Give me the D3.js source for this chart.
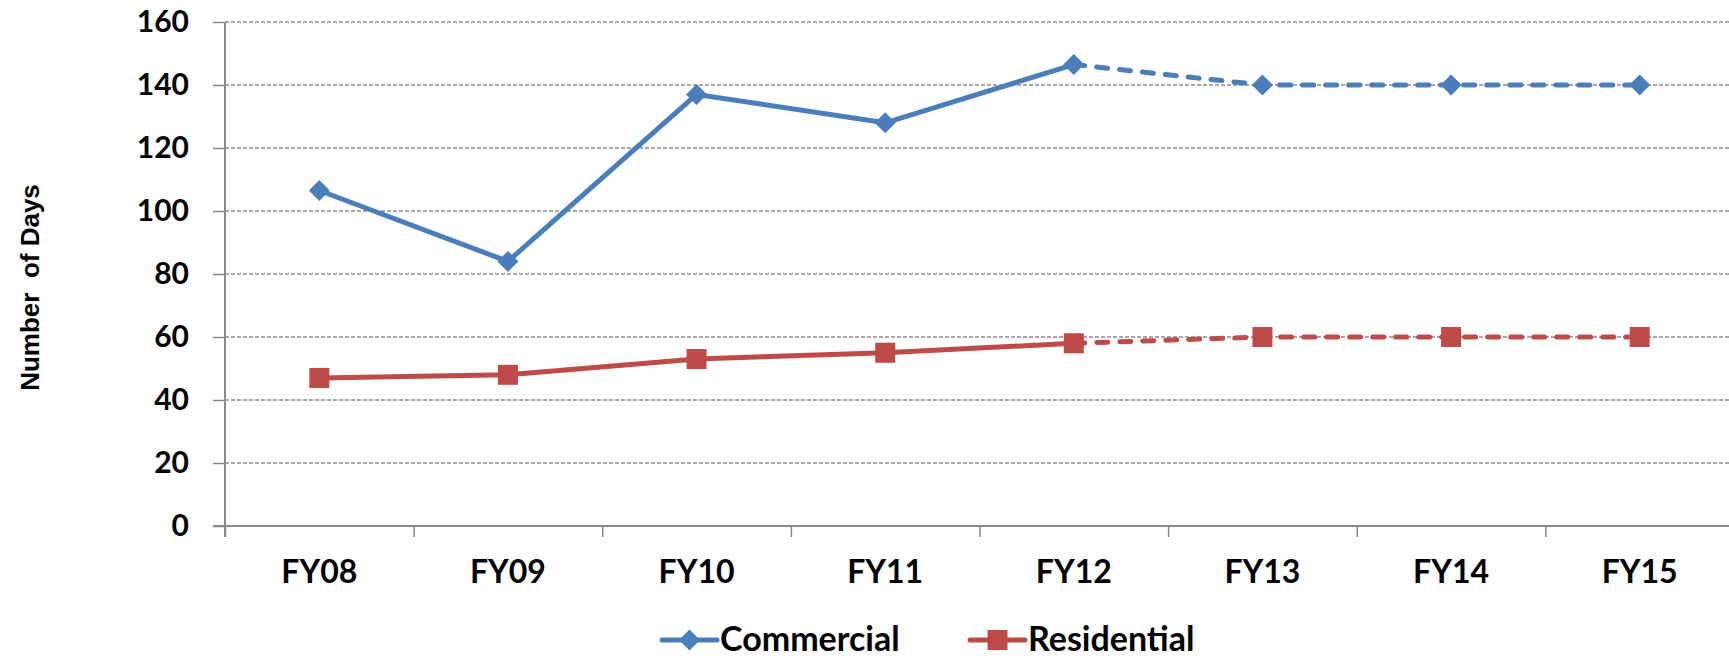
<!DOCTYPE html>
<html>
<head>
<meta charset="utf-8">
<script src="https://cdn.jsdelivr.net/npm/d3@7"></script>
<style>
  html, body { margin: 0; padding: 0; background: #fff; }
  svg { display: block; font-family: Lato, "Open Sans", sans-serif; font-weight: 700; }
</style>
</head>
<body>
<svg id="chart" width="1729" height="659"></svg>
<script>
// Fiscal years on the category axis
const years = ["FY08", "FY09", "FY10", "FY11", "FY12", "FY13", "FY14", "FY15"];
// Average number of days, by permit type
const commercial = [106.5, 84, 137, 128, 146.5, 140, 140, 140];
const residential = [47, 48, 53, 55, 58, 60, 60, 60];
// Years from this one onward are projections (drawn dashed)
const projectionFrom = "FY12";
const yTicks = [0, 20, 40, 60, 80, 100, 120, 140, 160];

const svg = d3.select("#chart");
const plotLeft = 225, plotRight = 1734, plotTop = 22, plotBottom = 526;

const x = d3.scaleBand().domain(years).range([plotLeft, plotRight]).padding(0);
const xc = d => x(d) + x.bandwidth() / 2;
const y = d3.scaleLinear().domain([0, 160]).range([plotBottom, plotTop]);

const gridColor = "#8a8a8a";

// Horizontal gridlines (dashed) across the plot
svg.append("g")
  .selectAll("line")
  .data(yTicks.filter(v => v > 0))
  .join("line")
  .attr("x1", plotLeft).attr("x2", plotRight)
  .attr("y1", d => y(d)).attr("y2", d => y(d))
  .attr("stroke", gridColor)
  .attr("stroke-width", 1.5)
  .attr("stroke-dasharray", "4,2");

// Value axis
const yAxis = svg.append("g")
  .attr("transform", `translate(${plotLeft},0)`)
  .call(d3.axisLeft(y).tickValues(yTicks).tickSize(12).tickPadding(24).tickFormat(d3.format("d")));
yAxis.select(".domain").attr("stroke", gridColor).attr("stroke-width", 2)
  .attr("d", `M0,${plotTop}V${plotBottom + 11}`);
yAxis.selectAll(".tick line").attr("stroke", gridColor).attr("stroke-width", 1.5);
yAxis.selectAll(".tick text")
  .attr("fill", "#000").attr("font-size", 30).attr("font-weight", 700)
  .attr("font-family", "Lato, 'Open Sans', sans-serif");

// Category axis: ticks sit on the band boundaries
const xEdges = d3.scaleLinear().domain([0, years.length]).range([plotLeft, plotRight]);
const xAxis = svg.append("g")
  .attr("transform", `translate(0,${plotBottom})`)
  .call(d3.axisBottom(xEdges).tickValues(d3.range(0, years.length + 1)).tickSize(11).tickFormat(""));
xAxis.select(".domain").attr("stroke", gridColor).attr("stroke-width", 2)
  .attr("d", `M${plotLeft - 12},0H${plotRight}`);
xAxis.selectAll(".tick line").attr("stroke", gridColor).attr("stroke-width", 1.5);

svg.append("g")
  .selectAll("text")
  .data(years)
  .join("text")
  .attr("x", d => xc(d))
  .attr("y", 583)
  .attr("text-anchor", "middle")
  .attr("font-size", 32)
  .text(d => d);

// Axis title
svg.append("text")
  .attr("transform", `translate(39,287.5) rotate(-90)`)
  .attr("text-anchor", "middle")
  .attr("font-family", "'Liberation Sans', Arial, sans-serif")
  .attr("font-size", 26)
  .style("white-space", "pre")
  .text("Number  of Days");

// Series
const series = [
  { name: "Commercial", values: commercial, color: "#4a7ebb", marker: "diamond" },
  { name: "Residential", values: residential, color: "#be4b48", marker: "square" }
];

const line = d3.line().x(d => xc(d.year)).y(d => y(d.value));
const splitIdx = years.indexOf(projectionFrom);

const diamond = (cx, cy, r) => `M${cx},${cy - r}L${cx + r},${cy}L${cx},${cy + r}L${cx - r},${cy}Z`;
const square = (cx, cy, r) => `M${cx - r},${cy - r}H${cx + r}V${cy + r}H${cx - r}Z`;
const markerPath = (kind, cx, cy) => kind === "diamond" ? diamond(cx, cy, 10.5) : square(cx, cy, 10);

series.forEach(s => {
  const pts = s.values.map((v, i) => ({ year: years[i], value: v }));
  const g = svg.append("g");
  g.append("path")
    .attr("d", line(pts.slice(0, splitIdx + 1)))
    .attr("fill", "none").attr("stroke", s.color)
    .attr("stroke-width", 5).attr("stroke-linejoin", "round");
  g.append("path")
    .attr("d", line(pts.slice(splitIdx)))
    .attr("fill", "none").attr("stroke", s.color)
    .attr("stroke-width", 5).attr("stroke-linecap", "round")
    .attr("stroke-dasharray", "11,12");
  g.selectAll("path.marker")
    .data(pts)
    .join("path")
    .attr("class", "marker")
    .attr("d", d => markerPath(s.marker, xc(d.year), y(d.value)))
    .attr("fill", s.color);
});

// Legend
const legendY = 640;
const legendItems = [
  { s: series[0], x0: 662 },
  { s: series[1], x0: 970 }
];
legendItems.forEach(({ s, x0 }) => {
  const g = svg.append("g");
  g.append("line")
    .attr("x1", x0).attr("x2", x0 + 55)
    .attr("y1", legendY).attr("y2", legendY)
    .attr("stroke", s.color).attr("stroke-width", 5).attr("stroke-linecap", "round");
  g.append("path")
    .attr("d", markerPath(s.marker, x0 + 27.5, legendY))
    .attr("fill", s.color);
  g.append("text")
    .attr("x", x0 + 58)
    .attr("y", legendY + 11)
    .attr("font-size", 34)
    .text(s.name);
});
</script>
</body>
</html>
